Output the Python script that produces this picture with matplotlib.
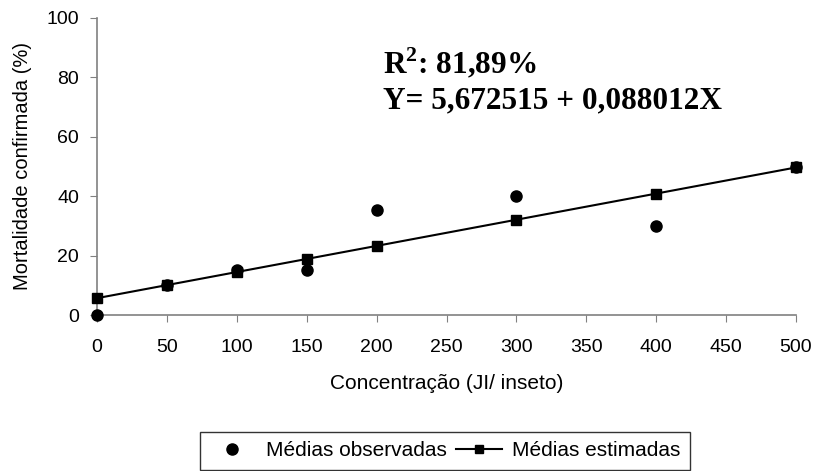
import matplotlib.pyplot as plt
from matplotlib.lines import Line2D

plt.rcParams['font.family'] = ['Liberation Sans', 'DejaVu Sans']
plt.rcParams['mathtext.fontset'] = 'custom'
plt.rcParams['mathtext.bf'] = 'Liberation Serif:bold'
plt.rcParams['mathtext.rm'] = 'Liberation Serif:bold'

# Concentração (JI/ inseto) e mortalidade confirmada (%)
concentracao = [0, 50, 100, 150, 200, 300, 400, 500]
observadas = [0, 10, 15, 15, 35.4, 40.2, 30.1, 50]
# Y = 5,672515 + 0,088012X avaliado em cada concentração
estimadas = [5.67, 10.07, 14.47, 18.87, 23.27, 32.08, 40.88, 49.68]

x_ticks = [0, 50, 100, 150, 200, 250, 300, 350, 400, 450, 500]
y_ticks = [0, 20, 40, 60, 80, 100]

W, H = 816, 471
fig = plt.figure(figsize=(W / 100, H / 100), dpi=100)
ax = fig.add_axes([97 / W, 1 - 315 / H, 699 / W, 297 / H])

ax.plot(concentracao, estimadas, color='black', lw=1.5, marker='s',
        markersize=7, zorder=3, clip_on=False)
ax.plot(concentracao, observadas, linestyle='none', color='black', marker='o',
        markersize=8, zorder=4, clip_on=False)

ax.set_xlim(0, 500)
ax.set_ylim(0, 100)
ax.set_xticks(x_ticks)
ax.set_yticks(y_ticks)
ax.tick_params(axis='both', labelsize=14, length=5, color='#808080',
               direction='out')
ax.tick_params(axis='x', pad=12)
ax.tick_params(axis='y', pad=8)
for s in ['top', 'right']:
    ax.spines[s].set_visible(False)
for s in ['left', 'bottom']:
    ax.spines[s].set_color('#808080')
    ax.spines[s].set_linewidth(1.2)

ax.set_xlabel('Concentração (JI/ inseto)', fontsize=15, labelpad=13)
ax.set_ylabel('Mortalidade confirmada (%)', fontsize=14.5, labelpad=10)

fig.text(383 / W, 1 - 73 / H, r'R$^{\mathbf{2}}$: 81,89%', va='baseline',
         fontsize=22.5, fontweight='bold', family='Liberation Serif')
fig.text(383 / W, 1 - 108 / H, 'Y= 5,672515 + 0,088012X', va='baseline',
         fontsize=22.5, fontweight='bold', family='Liberation Serif')

handles = [
    Line2D([], [], linestyle='none', marker='o', color='black', markersize=8),
    Line2D([], [], color='black', lw=1.5, marker='s', markersize=6),
]
leg = fig.legend(handles, ['Médias observadas', 'Médias estimadas'],
                 loc='upper center', bbox_to_anchor=(445 / W, 1 - 432 / H),
                 ncol=2, fontsize=15, frameon=True, fancybox=False,
                 edgecolor='black', handlelength=2.2, columnspacing=0.45,
                 handletextpad=0.5, borderaxespad=0, borderpad=0.45)
leg.get_frame().set_linewidth(1.0)

fig.savefig('out.png', dpi=100)
